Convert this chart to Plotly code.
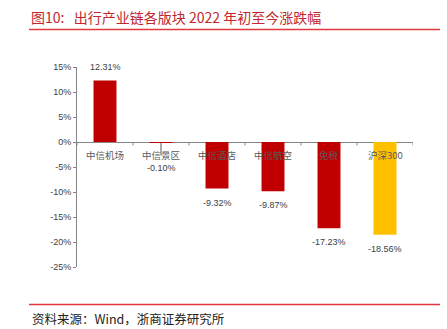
import plotly.graph_objects as go

categories = ["中信机场", "中信景区", "中信酒店", "中信航空", "免税", "沪深300"]
values = [12.31, -0.10, -9.32, -9.87, -17.23, -18.56]
bar_colors = ["#c00000", "#c00000", "#c00000", "#c00000", "#c00000", "#ffc000"]
y_ticks = [15, 10, 5, 0, -5, -10, -15, -20, -25]
title_text = "图10:   出行产业链各版块 2022 年初至今涨跌幅"
source_text = "资料来源：Wind，浙商证券研究所"

CJK = "Noto Sans CJK SC"
LAT = "Liberation Sans, Arial, sans-serif"

fig = go.Figure()
fig.add_trace(go.Bar(
    x=list(range(len(categories))), y=values,
    marker=dict(color=bar_colors, line=dict(width=0)),
    width=0.41, hoverinfo="skip",
))

W, H = 447, 329
ml, mr, mt, mb = 77, 34, 67, 62
pw, ph = W - ml - mr, H - mt - mb
px_per_unit = ph / 40.0

ann = []
shapes = []
for i, (c, v) in enumerate(zip(categories, values)):
    ann.append(dict(x=i, y=0, xref="x", yref="y", text=c, showarrow=False,
                    yshift=-13, font=dict(family=CJK, size=9.5, color="#595959")))
    if v >= 0:
        shift = 13
    elif abs(v) < 1:
        shift = -25
        # leader line from tiny bar toward its label
        shapes.append(dict(type="line", xref="x", yref="y", x0=i, x1=i,
                           y0=v, y1=v - 13 / px_per_unit,
                           line=dict(color="#595959", width=1)))
    else:
        shift = -14
    ann.append(dict(x=i, y=v, xref="x", yref="y", text=f"{v:.2f}%", showarrow=False,
                    yshift=shift, font=dict(family=LAT, size=9, color="#404040")))

page = [
    dict(x=29, y=17, text=title_text, font=dict(family=CJK, size=14, color="#c0282d")),
    dict(x=30, y=318, text=source_text, font=dict(family=CJK, size=12.5, color="#222222")),
]
for a in page:
    ann.append(dict(x=(a["x"] - ml) / pw, y=1 - (a["y"] - mt) / ph, xref="paper", yref="paper",
                    text=a["text"], showarrow=False, xanchor="left", yanchor="middle",
                    font=a["font"]))

for px_y in (29.5, 304.5):
    shapes.append(dict(type="line", xref="paper", yref="paper",
                       x0=(29 - ml) / pw, x1=(440 - ml) / pw,
                       y0=1 - (px_y - mt) / ph, y1=1 - (px_y - mt) / ph,
                       line=dict(color="#e0383c", width=1.3)))
for k in range(len(categories) + 1):
    shapes.append(dict(type="line", xref="x", yref="y", x0=k - 0.5, x1=k - 0.5,
                       y0=0, y1=-3.5 / px_per_unit, line=dict(color="#868686", width=1)))

fig.update_layout(
    width=W, height=H, margin=dict(l=ml, r=mr, t=mt, b=mb),
    paper_bgcolor="white", plot_bgcolor="white", showlegend=False,
    annotations=ann, shapes=shapes,
    xaxis=dict(range=[-0.5, len(categories) - 0.5], showticklabels=False, showgrid=False,
               zeroline=False, showline=False, ticks=""),
    yaxis=dict(range=[-25, 15], tickvals=y_ticks, ticktext=[f"{t}%" for t in y_ticks],
               showgrid=False, zeroline=True, zerolinecolor="#868686", zerolinewidth=1,
               showline=True, linecolor="#868686", linewidth=1, ticks="outside", ticklen=3,
               tickcolor="#868686", tickfont=dict(family=LAT, size=9, color="#404040")),
)
fig.write_html("out.html")
